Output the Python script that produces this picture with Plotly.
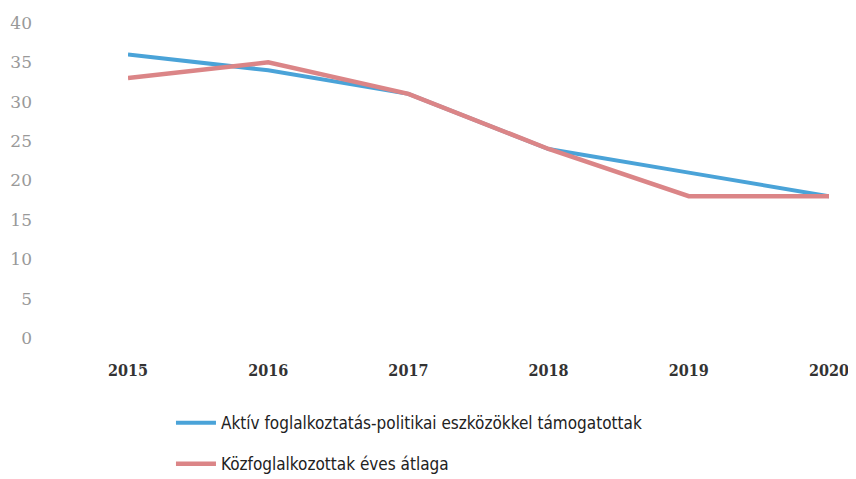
import plotly.graph_objects as go

# data
years = ["2015", "2016", "2017", "2018", "2019", "2020"]
aktiv = [36, 34, 31, 24, 21, 18]
kozfog = [33, 35, 31, 24, 18, 18]
y_ticks = [0, 5, 10, 15, 20, 25, 30, 35, 40]

fig = go.Figure()
fig.add_trace(go.Scatter(x=years, y=aktiv, mode="lines",
                         name="Aktív foglalkoztatás-politikai eszközökkel támogatottak",
                         line=dict(color="#4AA3D8", width=4), legendgroup="a"))
fig.add_trace(go.Scatter(x=years, y=kozfog, mode="lines",
                         name="Közfoglalkozottak éves átlaga",
                         line=dict(color="#DB8587", width=4.5), legendgroup="b"))

# figure a bit taller than the window so the legend does not squeeze the plot
fig.update_layout(
    width=856, height=495,
    margin=dict(l=120, r=35, t=15, b=165),
    plot_bgcolor="white", paper_bgcolor="white",
    showlegend=True,
    legend=dict(x=0.0613, y=-0.213, xanchor="left", yanchor="top",
                font=dict(family="DejaVu Sans Condensed", size=17, color="#222222"),
                tracegroupgap=16, itemwidth=40),
    xaxis=dict(type="category", range=[0, 5], showgrid=False, zeroline=False,
               showline=False, ticks="", automargin=False, ticklabelstandoff=21,
               tickangle=0,
               tickfont=dict(family="DejaVu Serif Condensed", size=16, color="#333333",
                             weight="bold")),
    yaxis=dict(range=[0, 40], tickvals=y_ticks, showgrid=False, zeroline=False,
               showline=False, ticks="", automargin=False, ticklabelstandoff=95,
               tickfont=dict(family="DejaVu Serif", size=17, color="#999999")),
)

fig.write_html("out.html")
